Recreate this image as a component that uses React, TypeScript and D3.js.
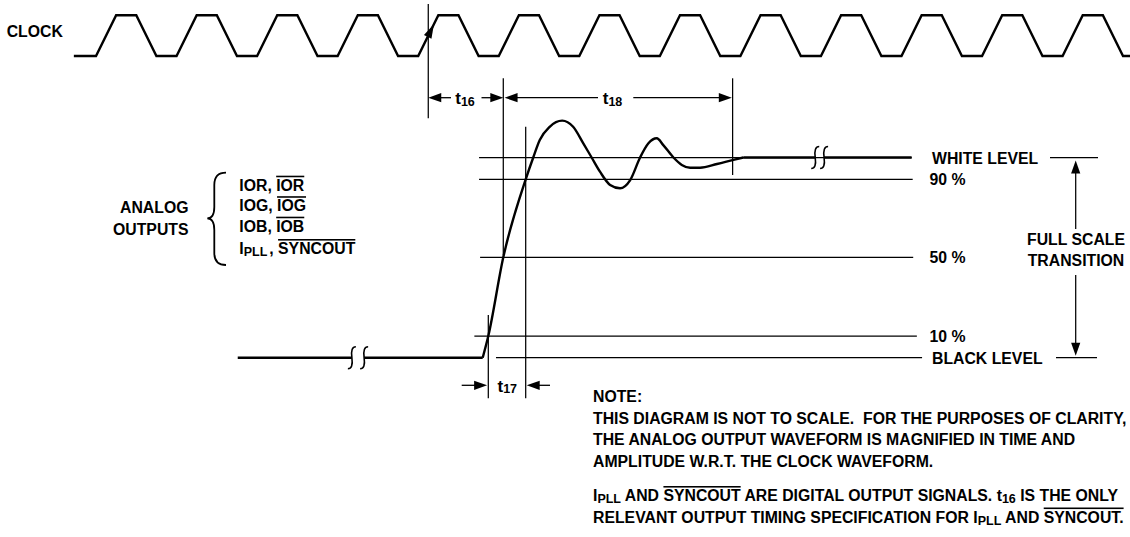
import * as d3 from "d3";

const FONT = "'Liberation Sans', Arial, Helvetica, sans-serif";
const FS = 15.8;

// clock: one cycle = rise, high, fall, low (fractions of a cycle and levels)
const clockPhase = [0, 0.25, 0.5, 0.75];
const clockLevel = [0, 1, 1, 0];
const clockCycles = 13;
const clockRefCycle = 4.125; // 50% point of the clock edge that starts t16

// analog output waveform: time (arbitrary units), level (0 = black, 1 = white)
const waveT = [0, 2.15, 7.9, 16.5, 19.4, 21.9, 25.7, 30.5, 34.7, 38.6, 41.8, 45, 48.9, 52.7, 56.6, 60.4, 63.6, 66.8, 69.3, 73.2, 76.4, 79.6, 83.4, 89.9, 96.2, 100];
const waveL = [0, 0.1, 0.5, 0.9, 1.0, 1.08, 1.141, 1.169, 1.141, 1.065, 1.0, 0.935, 0.871, 0.854, 0.896, 1.0, 1.065, 1.088, 1.057, 1.0, 0.966, 0.953, 0.953, 0.97, 0.989, 1.0];

// timing points on the waveform
const t10 = 2.15;
const t50 = 7.9;
const t90 = 16.5;
const tSettle = 95.9;

// reference levels
const levelValues = [1, 0.9, 0.5, 0.1, 0];
const levelLabels = ["WHITE LEVEL", "90 %", "50 %", "10 %", "BLACK LEVEL"];
const levelStart = [-1.4, -1.4, -1, -3.2, 5.1];
const levelEnd = [164.6, 165, 165.2, 166.6, 168.6];

const signalRows = [
  ["IOR, ", "IOR"],
  ["IOG, ", "IOG"],
  ["IOB, ", "IOB"],
];

const noteLines = [
  "NOTE:",
  "THIS DIAGRAM IS NOT TO SCALE.  FOR THE PURPOSES OF CLARITY,",
  "THE ANALOG OUTPUT WAVEFORM IS MAGNIFIED IN TIME AND",
  "AMPLITUDE W.R.T. THE CLOCK WAVEFORM.",
];

// scales
const xClock = d3.scaleLinear().domain([0, clockCycles]).range([96, 96 + clockCycles * 80.55]);
const yClock = d3.scaleLinear().domain([0, 1]).range([56, 15.3]);
const xT = d3.scaleLinear().domain([0, 100]).range([482.7, 743.3]);
const yL = d3.scaleLinear().domain([0, 0.1, 0.5, 0.9, 1]).range([357.7, 336, 257.3, 179.3, 157.5]);

function arrowHead(tx: number, ty: number, dx: number, dy: number, len = 13, hw = 4.6) {
  const n = Math.hypot(dx, dy);
  const ux = dx / n, uy = dy / n;
  const bx = tx - ux * len, by = ty - uy * len;
  return `M${tx},${ty}L${bx - uy * hw},${by + ux * hw}L${bx + uy * hw},${by - ux * hw}Z`;
}

// "ʃ" shaped break symbol
function breakMark(x: number, y: number) {
  return `M${x + 4},${y - 11}Q${x - 1.5},${y - 11} ${x},${y}Q${x + 1.5},${y + 11} ${x - 4},${y + 11}`;
}

function HArrow({ from, to, y }: { from: number; to: number; y: number }) {
  // tip at "to"
  const dir = to > from ? 1 : -1;
  return (
    <g>
      <line x1={from} x2={to - dir * 10} y1={y} y2={y} stroke="#000" strokeWidth={1.3} />
      <path d={arrowHead(to, y, dir, 0)} fill="#000" />
    </g>
  );
}

export default function App() {
  const clockPts: [number, number][] = [[-0.275, 0]];
  for (let k = 0; k < clockCycles; k++) {
    clockPhase.forEach((p, j) => clockPts.push([k + p, clockLevel[j]]));
  }
  clockPts.push([clockCycles + 0.3, 0]);
  const clockLine = d3
    .line<[number, number]>()
    .x((d) => xClock(d[0]))
    .y((d) => yClock(d[1]));

  const wave = waveT.map((t, i) => [t, waveL[i]] as [number, number]);
  const waveLine = d3
    .line<[number, number]>()
    .x((d) => xT(d[0]))
    .y((d) => yL(d[1]))
    .curve(d3.curveMonotoneX);

  const refX = xClock(clockRefCycle);
  const x10 = xT(t10);
  const x50 = xT(t50);
  const x90 = xT(t90);
  const xSet = xT(tSettle);

  // clock edge arrow
  const edgeTip = 4.195;
  const tipX = xClock(edgeTip);
  const tipY = yClock(0.78);
  const edgeDx = xClock(0.25) - xClock(0);
  const edgeDy = yClock(1) - yClock(0);

  const blackY = yL(0);
  const whiteY = yL(1);
  const preBreakL = xT(-50.2);
  const preBreakR = xT(-45.5);
  const whiteBreakL = xT(127.6);
  const whiteBreakR = xT(131);

  const arrowX = 1075.7;
  const thick = 2.4;
  const thin = 1.25;

  return (
    <svg
      width={1130}
      height={537}
      style={{ position: "absolute", left: 0, top: 0, background: "#fff" }}
      fontFamily={FONT}
      fontWeight="bold"
      fontSize={FS}
    >
      {/* clock */}
      <text x={6.7} y={37}>CLOCK</text>
      <path d={clockLine(clockPts) ?? ""} fill="none" stroke="#000" strokeWidth={thick} strokeLinejoin="miter" />
      <path d={arrowHead(tipX, tipY, edgeDx, edgeDy, 14, 4.2)} fill="#000" />

      {/* reference verticals */}
      <line x1={refX} x2={refX} y1={4} y2={118.3} stroke="#000" strokeWidth={thin} />
      <line x1={x50} x2={x50} y1={78.3} y2={yL(0.5) - 2} stroke="#000" strokeWidth={thin} />
      <line x1={xSet} x2={xSet} y1={78.3} y2={175} stroke="#000" strokeWidth={thin} />
      <line x1={x10} x2={x10} y1={315} y2={398.3} stroke="#000" strokeWidth={thin} />
      <line x1={x90} x2={x90} y1={126.7} y2={398.3} stroke="#000" strokeWidth={thin} />

      {/* t16 */}
      <HArrow from={451} to={refX} y={97.7} />
      <HArrow from={481.5} to={x50} y={97.7} />
      <text x={465} y={104} textAnchor="middle">
        <tspan fontSize={17}>t</tspan>
        <tspan fontSize={12.5} dy={1.5}>16</tspan>
      </text>

      {/* t18 */}
      <HArrow from={598} to={x50 + 1.3} y={97.7} />
      <HArrow from={633.3} to={xSet - 0.8} y={97.7} />
      <text x={612.5} y={104} textAnchor="middle">
        <tspan fontSize={17}>t</tspan>
        <tspan fontSize={12.5} dy={1.5}>18</tspan>
      </text>

      {/* t17 */}
      <HArrow from={461.7} to={x10 - 1.2} y={385.3} />
      <HArrow from={550} to={x90 + 1} y={385.3} />
      <text x={507.3} y={391.7} textAnchor="middle">
        <tspan fontSize={17}>t</tspan>
        <tspan fontSize={12.5} dy={1.5}>17</tspan>
      </text>

      {/* reference levels */}
      {levelValues.map((v, i) => (
        <g key={levelLabels[i]}>
          <line
            x1={xT(levelStart[i])}
            x2={xT(levelEnd[i])}
            y1={yL(v)}
            y2={yL(v)}
            stroke="#000"
            strokeWidth={thin}
          />
          <text x={levelLabels[i].includes("%") ? 929.5 : 932} y={yL(v) + 6}>
            {levelLabels[i]}
          </text>
        </g>
      ))}

      {/* analog waveform */}
      <line x1={xT(-94)} x2={preBreakL} y1={blackY} y2={blackY} stroke="#000" strokeWidth={thick} />
      <line x1={preBreakR} x2={xT(0)} y1={blackY} y2={blackY} stroke="#000" strokeWidth={thick} />
      <path d={breakMark(preBreakL, blackY)} fill="none" stroke="#000" strokeWidth={1.6} />
      <path d={breakMark(preBreakR, blackY)} fill="none" stroke="#000" strokeWidth={1.6} />
      <path d={waveLine(wave) ?? ""} fill="none" stroke="#000" strokeWidth={thick} strokeLinejoin="round" />
      <line x1={xT(100)} x2={whiteBreakL} y1={whiteY} y2={whiteY} stroke="#000" strokeWidth={thick} />
      <line x1={whiteBreakR} x2={xT(164.6)} y1={whiteY} y2={whiteY} stroke="#000" strokeWidth={thick} />
      <path d={breakMark(whiteBreakL, whiteY)} fill="none" stroke="#000" strokeWidth={1.6} />
      <path d={breakMark(whiteBreakR, whiteY)} fill="none" stroke="#000" strokeWidth={1.6} />

      {/* full scale transition */}
      <line x1={1050} x2={1098} y1={whiteY} y2={whiteY} stroke="#000" strokeWidth={thin} />
      <line x1={1056} x2={1097} y1={blackY} y2={blackY} stroke="#000" strokeWidth={thin} />
      <line x1={arrowX} x2={arrowX} y1={whiteY + 12} y2={229} stroke="#000" strokeWidth={thin} />
      <line x1={arrowX} x2={arrowX} y1={275} y2={blackY - 12} stroke="#000" strokeWidth={thin} />
      <path d={arrowHead(arrowX, whiteY + 3, 0, -1, 13, 4.6)} fill="#000" />
      <path d={arrowHead(arrowX, blackY - 2, 0, 1, 13, 4.6)} fill="#000" />
      <text x={1076} y={245} textAnchor="middle">FULL SCALE</text>
      <text x={1076} y={266} textAnchor="middle">TRANSITION</text>

      {/* analog outputs labels */}
      <text x={188.5} y={213.3} textAnchor="end">ANALOG</text>
      <text x={188.5} y={235} textAnchor="end">OUTPUTS</text>
      <path
        d="M226,172.7Q214.3,172.7 214.3,185L214.3,207Q214.3,218.3 207.3,218.3Q214.3,218.3 214.3,230L214.3,253Q214.3,265 226,265"
        fill="none"
        stroke="#000"
        strokeWidth={1.8}
      />
      {signalRows.map((r, i) => (
        <text key={r[1]} x={239.3} y={190.7 + i * 20.5}>
          <tspan>{r[0]}</tspan>
          <tspan textDecoration="overline">{r[1]}</tspan>
        </text>
      ))}
      <text x={239.3} y={254}>
        <tspan>I</tspan>
        <tspan fontSize={12.5} dy={2}>PLL</tspan>
        <tspan dy={-2} dx={2}>, </tspan>
        <tspan textDecoration="overline">SYNCOUT</tspan>
      </text>

      {/* note */}
      {noteLines.map((s, i) => (
        <text key={i} x={593} y={402 + i * 21.6} style={{ whiteSpace: "pre" }}>
          {s}
        </text>
      ))}
      <text x={593} y={501} style={{ whiteSpace: "pre" }}>
        <tspan>I</tspan>
        <tspan fontSize={12.5} dy={2}>PLL</tspan>
        <tspan dy={-2}> AND </tspan>
        <tspan textDecoration="overline">SYNCOUT</tspan>
        <tspan> ARE DIGITAL OUTPUT SIGNALS. t</tspan>
        <tspan fontSize={12.5} dy={2}>16</tspan>
        <tspan dy={-2}> IS THE ONLY</tspan>
      </text>
      <text x={593} y={522.5} style={{ whiteSpace: "pre" }}>
        <tspan>RELEVANT OUTPUT TIMING SPECIFICATION FOR I</tspan>
        <tspan fontSize={12.5} dy={2}>PLL</tspan>
        <tspan dy={-2}> AND </tspan>
        <tspan textDecoration="overline">SYNCOUT.</tspan>
      </text>
    </svg>
  );
}
